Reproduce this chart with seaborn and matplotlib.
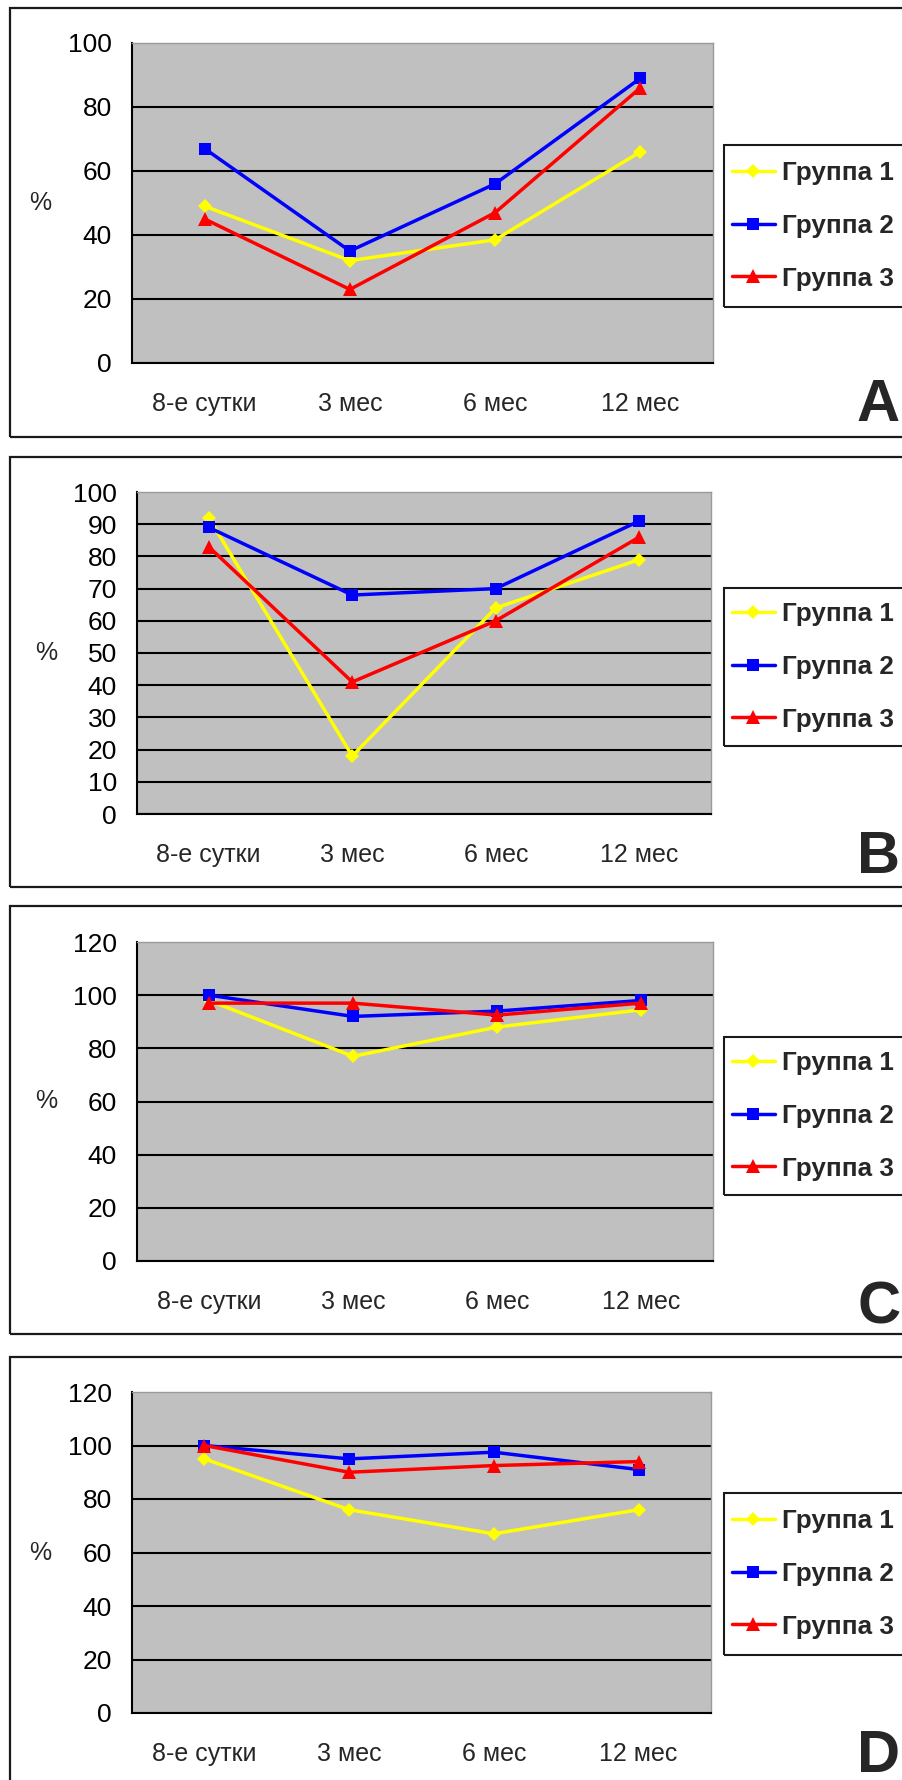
import matplotlib
matplotlib.use("Agg")
import matplotlib.pyplot as plt
import numpy as np
import pandas as pd
import seaborn as sns
from matplotlib.lines import Line2D
from matplotlib.patches import Rectangle

# ---- data -------------------------------------------------------------
periods = ["8-е сутки", "3 мес", "6 мес", "12 мес"]
groups = ["Группа 1", "Группа 2", "Группа 3"]

a_group1 = [49, 32, 38.5, 66]
a_group2 = [67, 35, 56, 89]
a_group3 = [45, 23, 47, 86]

b_group1 = [92, 18, 64, 79]
b_group2 = [89, 68, 70, 91]
b_group3 = [83, 41, 60, 86]

c_group1 = [98, 77, 88, 94.5]
c_group2 = [100, 92, 94, 98]
c_group3 = [97, 97, 92.5, 97]

d_group1 = [95, 76, 67, 76]
d_group2 = [100, 95, 97.5, 91]
d_group3 = [100, 90, 92.5, 94]

panel_letters = ["A", "B", "C", "D"]
y_max = [100, 100, 120, 120]
y_step = [20, 10, 20, 20]

panels = [
    (a_group1, a_group2, a_group3),
    (b_group1, b_group2, b_group3),
    (c_group1, c_group2, c_group3),
    (d_group1, d_group2, d_group3),
]

# ---- style ------------------------------------------------------------
sns.set_style("white")
plt.rcParams["font.family"] = ["Liberation Sans", "DejaVu Sans"]

palette = {"Группа 1": "#FFFF00", "Группа 2": "#0000FF", "Группа 3": "#FF0000"}
markers = {"Группа 1": "D", "Группа 2": "s", "Группа 3": "^"}
msizes = {"Группа 1": 7.5, "Группа 2": 9, "Группа 3": 10}
LW = 2.5

W, H = 902, 1780
fig = plt.figure(figsize=(W / 100, H / 100), dpi=100)

# pixel boxes: axes (left, top, right, bottom), frame (top, bottom),
# legend box (top, bottom), letter baseline y, "%" label x
layout = [
    dict(ax=(132, 43, 713, 363), frame=(8, 437), leg=(145, 307), letter=421, pct=40),
    dict(ax=(137, 492, 711, 814), frame=(457, 887), leg=(588, 746), letter=873, pct=46),
    dict(ax=(137, 942, 713, 1261), frame=(906, 1334), leg=(1037, 1195), letter=1323, pct=46),
    dict(ax=(132, 1392, 711, 1713), frame=(1357, 1800), leg=(1493, 1655), letter=1772, pct=40),
]


def fx(x):
    return x / W


def fy(y):
    return 1 - y / H


def frame_box(left, top, bottom, lw):
    """Open-ended rectangle running off the right edge of the figure."""
    fig.add_artist(Rectangle((fx(left), fy(bottom)), fx(W + 20 - left), (bottom - top) / H,
                             transform=fig.transFigure, fill=False,
                             edgecolor="#1a1a1a", linewidth=lw, zorder=0))


for series, letter, ymax, ystep, lay in zip(panels, panel_letters, y_max, y_step, layout):
    ftop, fbot = lay["frame"]
    frame_box(10, ftop, fbot, 1.6)

    l, t, r, b = lay["ax"]
    ax = fig.add_axes([fx(l), fy(b), (r - l) / W, (b - t) / H])
    ax.set_facecolor("#C0C0C0")

    df = pd.DataFrame({
        "pos": np.tile(np.arange(len(periods)), len(groups)),
        "value": np.concatenate(series),
        "group": np.repeat(groups, len(periods)),
    })
    sns.lineplot(data=df, x="pos", y="value", hue="group", style="group",
                 palette=palette, markers=markers, dashes=False,
                 linewidth=LW, markersize=8, markeredgewidth=0,
                 legend=False, ax=ax)
    for line, g in zip(ax.get_lines(), groups):
        line.set_markersize(msizes[g])

    ax.set_xlim(-0.5, len(periods) - 0.5)
    ax.set_ylim(0, ymax)
    ax.set_yticks(np.arange(0, ymax + 1, ystep))
    ax.tick_params(axis="y", labelsize=19, length=6.5, width=1.4,
                   direction="out", pad=8, colors="black")

    ax.set_xticks(np.arange(-0.5, len(periods)), labels=[])
    ax.set_xticks(np.arange(len(periods)), labels=periods, minor=True)
    ax.tick_params(axis="x", which="major", length=7, width=1.4, direction="out")
    ax.tick_params(axis="x", which="minor", length=0, labelsize=18, pad=21)

    ax.yaxis.grid(True, color="black", linewidth=1.5)
    ax.xaxis.grid(False)
    ax.get_ygridlines()[-1].set_visible(False)
    ax.set_axisbelow(True)

    for side in ("left", "bottom"):
        ax.spines[side].set_color("black")
        ax.spines[side].set_linewidth(1.5)
    for side in ("top", "right"):
        ax.spines[side].set_color("#9a9a9a")
        ax.spines[side].set_linewidth(1.0)

    ax.set_xlabel("")
    ax.set_ylabel("%", rotation=0, fontsize=18, va="center", ha="center")
    ax.yaxis.set_label_coords(fx(lay["pct"]), fy((t + b) / 2), transform=fig.transFigure)

    # legend: entries without their own frame, boxed by an open rectangle
    ltop, lbot = lay["leg"]
    frame_box(724, ltop, lbot, 1.5)
    handles = [Line2D([], [], color=palette[g], linewidth=LW, marker=markers[g],
                      markersize=msizes[g], markeredgewidth=0) for g in groups]
    fig.legend(handles, groups, loc="center left",
               bbox_to_anchor=(fx(732), fy((ltop + lbot) / 2)),
               bbox_transform=fig.transFigure, frameon=False, borderaxespad=0,
               borderpad=0, prop={"size": 18.7, "weight": "bold"},
               handlelength=1.65, handletextpad=0.28, labelspacing=1.1)

    fig.text(fx(857), fy(lay["letter"]), letter, fontsize=43, fontweight="bold",
             ha="left", va="baseline")

fig.savefig("out.png", dpi=100, facecolor="white")
